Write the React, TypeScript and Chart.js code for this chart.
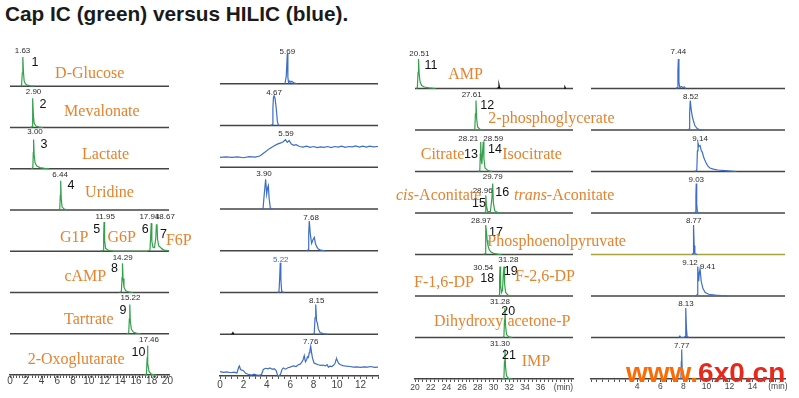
import React, { useEffect, useRef } from 'react';
import { Chart, registerables } from 'chart.js';

Chart.register(...registerables);

type Pt = [number, number];

// ---------------- Column 1: Cap IC, 0–20 min (green) ----------------
const capIcEarlyRetention = [['1.63'], ['2.90'], ['3.00'], ['6.44'], ['11.95', '17.94', '18.67'], ['14.29'], ['15.22'], ['17.46']];
const capIcEarlyPeakNumbers = [['1'], ['2'], ['3'], ['4'], ['5', '6', '7'], ['8'], ['9'], ['10']];
const capIcEarlyCompounds = [['D-Glucose'], ['Mevalonate'], ['Lactate'], ['Uridine'], ['G1P', 'G6P', 'F6P'], ['cAMP'], ['Tartrate'], ['2-Oxoglutarate']];
// [minutes, % of full peak height]
const capIcGlucose: Pt[] = [[1.3, 0], [1.47, 3], [1.56, 45], [1.63, 100], [1.71, 48], [1.8, 18], [1.95, 8], [2.2, 4], [2.6, 1.5], [3.1, 0]];
const capIcMevalonate: Pt[] = [[2.6, 0], [2.8, 3], [2.86, 50], [2.9, 100], [2.97, 42], [3.07, 14], [3.3, 5], [3.7, 1.5], [4.2, 0]];
const capIcLactate: Pt[] = [[2.7, 0], [2.9, 3], [2.96, 55], [3.0, 100], [3.07, 48], [3.18, 20], [3.4, 9], [3.8, 4], [4.4, 1], [5.0, 0]];
const capIcUridine: Pt[] = [[6.1, 0], [6.32, 3], [6.39, 50], [6.44, 100], [6.51, 38], [6.62, 10], [6.9, 3], [7.4, 0]];
const capIcHexoseP: Pt[] = [[11.5, 0], [11.82, 3], [11.9, 50], [11.95, 100], [12.02, 36], [12.15, 10], [12.5, 3], [13.2, 0], [17.4, 0], [17.78, 3], [17.87, 50], [17.94, 96], [18.02, 35], [18.15, 14], [18.35, 12], [18.52, 45], [18.6, 90], [18.67, 92], [18.75, 40], [18.9, 18], [19.1, 14], [19.3, 8], [19.6, 4], [20.0, 2], [20.2, 1]];
const capIcCamp: Pt[] = [[13.9, 0], [14.15, 3], [14.23, 50], [14.29, 100], [14.36, 48], [14.48, 18], [14.7, 6], [15.2, 1], [15.6, 0]];
const capIcTartrate: Pt[] = [[14.85, 0], [15.08, 3], [15.16, 50], [15.22, 100], [15.29, 42], [15.42, 15], [15.7, 5], [16.2, 1], [16.6, 0]];
const capIcOxoglutarate: Pt[] = [[17.1, 0], [17.33, 3], [17.41, 50], [17.46, 100], [17.53, 40], [17.66, 12], [17.95, 3], [18.5, 0]];

// ---------------- Column 2: HILIC, 0–13.5 min (blue) ----------------
const hilicEarlyRetention = [['5.69'], ['4.67'], ['5.59'], ['3.90'], ['7.68'], ['5.22'], ['8.15'], ['7.76']];
const hilicGlucose: Pt[] = [[5.55, 0], [5.66, 25], [5.75, 100], [5.8, 22], [5.86, 3], [5.95, 9], [6.05, 5], [6.15, 8], [6.3, 3], [6.6, 0]];
const hilicMevalonate: Pt[] = [[4.35, 0], [4.46, 3], [4.52, 60], [4.57, 95], [4.62, 100], [4.7, 92], [4.8, 60], [4.9, 15], [4.98, 2], [5.1, 0]];
const hilicLactate: Pt[] = [[0, 33], [0.5, 35], [1.0, 33], [1.5, 35], [2.0, 32], [2.5, 36], [3.0, 34], [3.4, 38], [3.8, 50], [4.2, 62], [4.6, 72], [4.9, 78], [5.2, 82], [5.4, 86], [5.59, 93], [5.75, 84], [5.9, 90], [6.1, 78], [6.3, 74], [6.5, 76], [6.8, 70], [7.1, 68], [7.4, 71], [7.7, 67], [8.0, 70], [8.3, 66], [8.6, 69], [8.9, 67], [9.2, 70], [9.5, 66], [9.8, 70], [10.1, 68], [10.4, 71], [10.7, 67], [11.0, 70], [11.3, 69], [11.6, 72], [11.9, 68], [12.2, 71], [12.5, 68], [12.8, 71], [13.1, 69], [13.5, 70]];
const hilicUridine: Pt[] = [[3.5, 0], [3.68, 2], [3.78, 50], [3.9, 100], [3.99, 50], [4.07, 72], [4.13, 79], [4.2, 35], [4.3, 3], [4.5, 0]];
const hilicHexoseP: Pt[] = [[7.4, 0], [7.52, 3], [7.58, 60], [7.63, 100], [7.72, 55], [7.83, 25], [7.95, 38], [8.06, 45], [8.15, 25], [8.26, 14], [8.4, 6], [8.6, 2], [9.0, 0]];
const hilicCamp: Pt[] = [[4.9, 0], [5.04, 2], [5.1, 50], [5.15, 100], [5.2, 45], [5.27, 3], [5.5, 0]];
const hilicTartrate: Pt[] = [[7.9, 0], [8.05, 2], [8.12, 55], [8.18, 100], [8.25, 45], [8.32, 38], [8.4, 18], [8.55, 6], [8.8, 2], [9.2, 0]];
const hilicOxoglutarate: Pt[] = [[0, 15], [0.3, 12], [0.6, 14], [0.9, 11], [1.2, 13], [1.45, 10], [1.6, 30], [1.66, 34], [1.75, 22], [2.0, 18], [2.2, 9], [2.4, 6], [2.7, 3], [2.9, 6], [3.1, 4], [3.35, 2], [3.55, 5], [3.7, 22], [3.9, 26], [4.1, 24], [4.27, 27], [4.45, 23], [4.65, 24], [4.8, 18], [4.93, 0], [5.05, 2], [5.15, 4], [5.3, 22], [5.4, 27], [5.6, 23], [5.8, 28], [6.0, 30], [6.15, 33], [6.3, 34], [6.5, 32], [6.7, 38], [6.85, 40], [6.98, 46], [7.1, 55], [7.2, 69], [7.3, 48], [7.4, 55], [7.47, 64], [7.55, 62], [7.62, 78], [7.68, 85], [7.75, 100], [7.82, 80], [7.9, 61], [8.03, 44], [8.2, 41], [8.4, 38], [8.6, 36], [8.8, 37], [9.0, 34], [9.15, 38], [9.26, 30], [9.4, 33], [9.55, 32], [9.7, 36], [9.82, 42], [9.92, 55], [9.97, 58], [10.05, 50], [10.15, 42], [10.3, 38], [10.5, 35], [10.8, 33], [11.1, 32], [11.4, 30], [11.7, 31], [12.0, 29], [12.3, 31], [12.6, 30], [12.9, 32], [13.2, 29], [13.5, 30]];
const hilicTartrateArtifact: Pt[] = [[1.0, 0], [1.1, 6], [1.2, 0]];

// ---------------- Column 3: Cap IC, 20–40 min (green) ----------------
const capIcLateRetention = [['20.51'], ['27.61'], ['28.21', '28.59'], ['28.96', '29.79'], ['28.97'], ['30.54', '31.28'], ['31.28'], ['31.30']];
const capIcLatePeakNumbers = [['11'], ['12'], ['13', '14'], ['15', '16'], ['17'], ['18', '19'], ['20'], ['21']];
const capIcLateCompounds = [['AMP'], ['2-phosphoglycerate'], ['Citrate', 'Isocitrate'], ['cis-Aconitate', 'trans-Aconitate'], ['Phosphoenolpyruvate'], ['F-1,6-DP', 'F-2,6-DP'], ['Dihydroxy', 'acetone-P'], ['IMP']];
const capIcAmp: Pt[] = [[20.15, 0], [20.3, 3], [20.39, 55], [20.45, 100], [20.53, 50], [20.65, 22], [20.85, 10], [21.2, 5], [21.8, 2], [22.6, 0]];
const capIcPhosphoglycerate: Pt[] = [[27.45, 0], [27.62, 3], [27.7, 55], [27.77, 100], [27.85, 40], [27.98, 10], [28.3, 2], [28.8, 0]];
const capIcCitrates: Pt[] = [[28.1, 0], [28.26, 3], [28.32, 60], [28.37, 100], [28.45, 40], [28.52, 25], [28.62, 70], [28.7, 102], [28.78, 45], [28.92, 12], [29.3, 3], [29.8, 0]];
const capIcAconitates: Pt[] = [[28.8, 0], [28.95, 3], [29.0, 40], [29.04, 60], [29.1, 25], [29.25, 6], [29.6, 4], [29.8, 50], [29.9, 100], [29.98, 35], [30.15, 8], [30.5, 2], [31.0, 0]];
const capIcPep: Pt[] = [[28.75, 0], [28.92, 3], [28.98, 60], [29.04, 100], [29.12, 72], [29.2, 48], [29.3, 30], [29.45, 17], [29.65, 9], [30.0, 4], [30.5, 1], [31.0, 0]];
const capIcFructoseDp: Pt[] = [[30.55, 0], [30.72, 3], [30.78, 60], [30.83, 100], [30.91, 35], [31.02, 12], [31.15, 20], [31.26, 80], [31.34, 100], [31.42, 40], [31.55, 12], [31.85, 3], [32.3, 0]];
const capIcDhap: Pt[] = [[31.15, 0], [31.33, 3], [31.4, 60], [31.46, 100], [31.54, 40], [31.66, 10], [31.95, 2], [32.4, 0]];
const capIcImp: Pt[] = [[31.15, 0], [31.33, 3], [31.4, 60], [31.46, 102], [31.54, 40], [31.66, 10], [31.95, 2], [32.4, 0]];
const capIcAmpNoiseA: Pt[] = [[30.5, 0], [30.62, 4], [30.7, 13], [30.78, 3], [30.9, 0]];
const capIcAmpNoiseB: Pt[] = [[39.0, 0], [39.1, 5], [39.2, 0]];

// ---------------- Column 4: HILIC, 0–16.8 min (blue) ----------------
const hilicLateRetention = [['7.44'], ['8.52'], ['9.14'], ['9.03'], ['8.77'], ['9.12', '9.41'], ['8.13'], ['7.77']];
const hilicAmp: Pt[] = [[7.35, 0], [7.48, 3], [7.53, 60], [7.57, 100], [7.62, 20], [7.7, 3], [7.85, 7], [7.95, 3], [8.1, 5], [8.2, 0]];
const hilicPhosphoglycerate: Pt[] = [[8.35, 0], [8.5, 3], [8.55, 60], [8.6, 100], [8.68, 70], [8.78, 45], [8.86, 33], [9.0, 15], [9.2, 5], [9.45, 1], [9.8, 0]];
const hilicCitrates: Pt[] = [[9.05, 0], [9.17, 5], [9.22, 70], [9.27, 97], [9.35, 85], [9.45, 88], [9.55, 72], [9.65, 65], [9.75, 50], [9.85, 40], [9.97, 30], [10.1, 20], [10.3, 12], [10.6, 8], [11.0, 5], [11.6, 3], [12.6, 0]];
const hilicAconitates: Pt[] = [[8.95, 0], [9.05, 3], [9.09, 60], [9.12, 100], [9.16, 30], [9.22, 3], [9.4, 0]];
const hilicPep: Pt[] = [[8.75, 0], [8.84, 3], [8.87, 60], [8.9, 100], [8.94, 30], [9.0, 3], [9.2, 0]];
const hilicFructoseDp: Pt[] = [[9.1, 0], [9.2, 5], [9.25, 100], [9.33, 50], [9.38, 75], [9.45, 92], [9.55, 50], [9.7, 25], [9.9, 12], [10.2, 6], [10.8, 3], [11.8, 0]];
const hilicDhap: Pt[] = [[7.6, 0], [7.7, 5], [7.8, 0], [8.05, 0], [8.15, 3], [8.19, 60], [8.23, 100], [8.27, 30], [8.33, 3], [8.5, 0]];
const hilicImp: Pt[] = [[7.7, 0], [7.79, 3], [7.83, 60], [7.86, 100], [7.9, 30], [7.96, 3], [8.1, 0]];

const TITLE = 'Cap IC (green) versus HILIC (blue).';
const AXIS_UNIT = '(min)';

// ---------------- Styling / layout (not data) ----------------
const GREEN = '#35a04c';
const BLUE = '#3d6ec4';
const ORANGE = '#e5832f';
const BASE = '#454545';
const SANS = '"Liberation Sans", Arial, Helvetica, sans-serif';
const SERIF = '"Liberation Serif", "Times New Roman", serif';
const ROW_SCALE = 0.0071; // row units per % of peak height

// label placements: [x in minutes, px above the row baseline]
const c1RtPos = [[[1.59, 35]], [[2.99, 35.8]], [[3.18, 36.7]], [[6.36, 35]], [[12.09, 34.5], [17.71, 34.5], [19.68, 34.5]], [[14.31, 35.2]], [[15.31, 35.5]], [[17.66, 35]]];
const c1NumPos = [[[3.18, 24]], [[4.2, 22.5]], [[4.33, 24.7]], [[7.76, 24.3]], [[11.03, 22], [17.18, 22], [19.5, 16.25]], [[13.27, 24.2]], [[14.34, 23]], [[16.32, 22.7]]];
const c1NamePos = [[[5.73, 12]], [[6.87, 15.5]], [[9.16, 13.7]], [[9.54, 17]], [[6.36, 13], [12.38, 13], [19.81, 10.25]], [[6.91, 15.8]], [[6.87, 13.75]], [[2.25, 15]]];
const c2RtPos = [[[5.75, 31.5]], [[4.62, 32.8]], [[5.64, 33]], [[3.76, 35]], [[7.78, 33]], [[5.19, 32.5]], [[8.26, 33.5]], [[7.75, 34.3]]];
const c3RtPos = [[[20.55, 34.5]], [[27.22, 35]], [[26.79, 32.5], [29.97, 32.5]], [[28.62, 22.3], [29.9, 36.3]], [[28.41, 33.8]], [[28.7, 28.7], [31.89, 36]], [[30.83, 35.8]], [[30.83, 35.7]]];
const c3NumPos = [[[22.04, 22.5]], [[29.21, 24]], [[27.13, 17.2], [30.19, 21.5]], [[28.15, 9.7], [31.12, 20.7]], [[30.32, 21.8]], [[29.21, 17.7], [32.19, 24.3]], [[31.89, 25.8]], [[31.97, 23]]];
const c3NamePos = [[[24.24, 13.5]], [[29.34, 11.7]], [[20.73, 16.5], [31.12, 16.5]], [[17.58, 17], [32.61, 17]], [[29.21, 12.8]], [[19.87, 13.3], [32.74, 19.3]], [[22.42, 15.8], [31.77, 15.8]], [[33.59, 17.3]]];
const c4RtPos = [[[7.57, 36.8]], [[8.64, 33.3]], [[9.45, 32.8]], [[9.12, 33.7]], [[8.9, 33.5]], [[8.58, 33.7], [10.11, 29.3]], [[8.23, 33.5]], [[7.86, 33]]];

type Kind = 'rt' | 'num' | 'name';
interface Label { row: number; x: number; dy: number; text: string; kind: Kind; color?: string }

function zip(texts: string[][], pos: number[][][], kind: Kind, colorFor?: (r: number, t: string) => string | undefined): Label[] {
  const out: Label[] = [];
  texts.forEach((row, r) => row.forEach((t, i) => {
    const p = pos[r][i];
    out.push({ row: r, x: p[0], dy: p[1], text: t, kind, color: colorFor ? colorFor(r, t) : undefined });
  }));
  return out;
}

interface Extra { row: number; pts: Pt[]; color: string }
interface ColumnSpec {
  left: number; top: number; width: number; height: number;
  pad: { left: number; right: number; top: number };
  axisHeight: number;
  xMin: number; xMax: number; step: number; labelMin: number; labelMax: number;
  tickSize: number; tickPadding: number;
  color: string;
  traces: Pt[][];
  extras: Extra[];
  baselineColors: Record<number, string>;
  labels: Label[];
  unitLabel?: { x: number; dy: number };
}

const columns: ColumnSpec[] = [
  {
    left: -2, top: 37, width: 201, height: 358, pad: { left: 12, right: 30, top: 8 }, axisHeight: 20,
    xMin: 0, xMax: 20.2, step: 0.4, labelMin: 0, labelMax: 20, tickSize: 10, tickPadding: -3, color: GREEN,
    traces: [capIcGlucose, capIcMevalonate, capIcLactate, capIcUridine, capIcHexoseP, capIcCamp, capIcTartrate, capIcOxoglutarate],
    extras: [], baselineColors: {},
    labels: [...zip(capIcEarlyRetention, c1RtPos, 'rt'), ...zip(capIcEarlyPeakNumbers, c1NumPos, 'num'), ...zip(capIcEarlyCompounds, c1NamePos, 'name')],
  },
  {
    left: 208, top: 34, width: 182, height: 364, pad: { left: 12, right: 12, top: 8 }, axisHeight: 22,
    xMin: 0, xMax: 13.5, step: 0.5, labelMin: 0, labelMax: 12, tickSize: 10, tickPadding: 0, color: BLUE,
    traces: [hilicGlucose, hilicMevalonate, hilicLactate, hilicUridine, hilicHexoseP, hilicCamp, hilicTartrate, hilicOxoglutarate],
    extras: [{ row: 6, pts: hilicTartrateArtifact, color: '#111' }], baselineColors: {},
    labels: zip(hilicEarlyRetention, c2RtPos, 'rt', (r) => (r === 5 ? BLUE : undefined)),
  },
  {
    left: 390, top: 39, width: 240, height: 360, pad: { left: 25, right: 57, top: 8 }, axisHeight: 20,
    xMin: 20, xMax: 40.13, step: 0.5, labelMin: 20, labelMax: 36, tickSize: 8.5, tickPadding: 1, color: GREEN,
    traces: [capIcAmp, capIcPhosphoglycerate, capIcCitrates, capIcAconitates, capIcPep, capIcFructoseDp, capIcDhap, capIcImp],
    extras: [{ row: 0, pts: capIcAmpNoiseA, color: '#111' }, { row: 0, pts: capIcAmpNoiseB, color: '#111' }], baselineColors: {},
    labels: [...zip(capIcLateRetention, c3RtPos, 'rt'), ...zip(capIcLatePeakNumbers, c3NumPos, 'num'), ...zip(capIcLateCompounds, c3NamePos, 'name')],
    unitLabel: { x: 38.92, dy: 9 },
  },
  {
    left: 579, top: 39, width: 218, height: 360, pad: { left: 12, right: 12, top: 8 }, axisHeight: 20,
    xMin: 0, xMax: 16.81, step: 0.5, labelMin: 4, labelMax: 14, tickSize: 8.5, tickPadding: 0, color: BLUE,
    traces: [hilicAmp, hilicPhosphoglycerate, hilicCitrates, hilicAconitates, hilicPep, hilicFructoseDp, hilicDhap, hilicImp],
    extras: [], baselineColors: { 4: '#a9a33e' },
    labels: zip(hilicLateRetention, c4RtPos, 'rt'),
    unitLabel: { x: 16.2, dy: 7.7 },
  },
];

function Column({ spec }: { spec: ColumnSpec }) {
  const ref = useRef<HTMLCanvasElement>(null);
  useEffect(() => {
    if (!ref.current) return;
    const datasets: any[] = [];
    spec.traces.forEach((tr, r) => {
      datasets.push({
        data: tr.map(([x, v]) => ({ x, y: 7 - r + v * ROW_SCALE })),
        borderColor: spec.color, borderWidth: 1.2, pointRadius: 0, tension: 0, order: 0, clip: 6,
      });
    });
    spec.extras.forEach((e) => {
      datasets.push({
        data: e.pts.map(([x, v]) => ({ x, y: 7 - e.row + v * ROW_SCALE })),
        borderColor: e.color, borderWidth: 1.2, pointRadius: 0, tension: 0, order: 0, clip: 6,
      });
    });
    for (let r = 0; r < 7; r++) {
      datasets.push({
        data: [{ x: spec.xMin, y: 7 - r }, { x: spec.xMax, y: 7 - r }],
        borderColor: spec.baselineColors[r] || BASE, borderWidth: 1.5, pointRadius: 0, order: 1, clip: 6,
      });
    }
    const annotate = {
      id: 'annotate',
      afterDatasetsDraw(chart: any) {
        const { ctx } = chart;
        const xs = chart.scales.x;
        const ys = chart.scales.y;
        ctx.save();
        ctx.textBaseline = 'middle';
        spec.labels.forEach((l) => {
          const px = xs.getPixelForValue(l.x);
          const py = ys.getPixelForValue(7 - l.row) - l.dy;
          if (l.kind === 'rt') {
            ctx.font = `8px ${SANS}`;
            ctx.fillStyle = l.color || '#2b2b2b';
            ctx.textAlign = 'center';
            ctx.fillText(l.text, px, py);
          } else if (l.kind === 'num') {
            ctx.font = `12.5px ${SANS}`;
            ctx.fillStyle = '#111';
            ctx.textAlign = 'center';
            ctx.fillText(l.text, px, py);
          } else {
            ctx.fillStyle = ORANGE;
            ctx.textAlign = 'left';
            const m = l.text.match(/^(cis|trans)(-.*)$/);
            if (m) {
              ctx.font = `italic 16px ${SERIF}`;
              ctx.fillText(m[1], px, py);
              const w = ctx.measureText(m[1]).width;
              ctx.font = `16px ${SERIF}`;
              ctx.fillText(m[2], px + w, py);
            } else {
              ctx.font = `16px ${SERIF}`;
              ctx.fillText(l.text, px, py);
            }
          }
        });
        if (spec.unitLabel) {
          ctx.font = `${spec.tickSize}px ${SANS}`;
          ctx.fillStyle = '#444';
          ctx.textAlign = 'center';
          ctx.fillText(AXIS_UNIT, xs.getPixelForValue(spec.unitLabel.x), chart.chartArea.bottom + spec.unitLabel.dy);
        }
        ctx.restore();
      },
    };
    const chart = new Chart(ref.current, {
      type: 'line',
      data: { datasets },
      options: {
        responsive: false,
        animation: false,
        devicePixelRatio: 1,
        events: [],
        layout: { padding: { left: spec.pad.left, right: spec.pad.right, top: spec.pad.top, bottom: 0 } },
        plugins: { legend: { display: false }, tooltip: { enabled: false }, title: { display: false } },
        scales: {
          x: {
            type: 'linear',
            min: spec.xMin,
            max: spec.xMax,
            afterFit: (s: any) => { s.height = spec.axisHeight; },
            grid: { display: true, drawOnChartArea: false, drawTicks: true, tickLength: 3, color: '#555', tickWidth: 1 },
            border: { display: true, color: BASE, width: 1.5 },
            ticks: {
              stepSize: spec.step,
              autoSkip: false,
              maxRotation: 0,
              minRotation: 0,
              includeBounds: false,
              padding: spec.tickPadding,
              color: '#444',
              font: { family: SANS, size: spec.tickSize },
              callback: (v: any) => {
                const n = Number(v);
                const even = Math.abs(n / 2 - Math.round(n / 2)) < 1e-6;
                return even && n >= spec.labelMin - 1e-6 && n <= spec.labelMax + 1e-6 ? String(Math.round(n)) : '';
              },
            },
          },
          y: { type: 'linear', min: 0, max: 8, display: false },
        },
      } as any,
      plugins: [annotate],
    });
    return () => chart.destroy();
  }, [spec]);
  return (
    <canvas
      ref={ref}
      width={spec.width}
      height={spec.height}
      style={{ position: 'absolute', left: spec.left, top: spec.top, width: spec.width, height: spec.height }}
    />
  );
}

export default function App() {
  return (
    <div style={{ position: 'fixed', left: 0, top: 0, width: 799, height: 398, background: '#fff', overflow: 'hidden' }}>
      <div style={{ position: 'absolute', left: 5, top: 3, fontFamily: SANS, fontWeight: 'bold', fontSize: '20.8px', lineHeight: '21px', color: '#1a1a1a', whiteSpace: 'nowrap' }}>
        {TITLE}
      </div>
      {columns.map((c, i) => <Column key={i} spec={c} />)}
      <div style={{ position: 'absolute', left: 626, top: 359, fontFamily: SANS, fontWeight: 'bold', fontSize: '28px', lineHeight: '28px', whiteSpace: 'nowrap' }}>
        <span style={{ color: '#ff6a00' }}>www.</span>
        <span style={{ color: '#e8281a' }}>6x0.cn</span>
      </div>
    </div>
  );
}
